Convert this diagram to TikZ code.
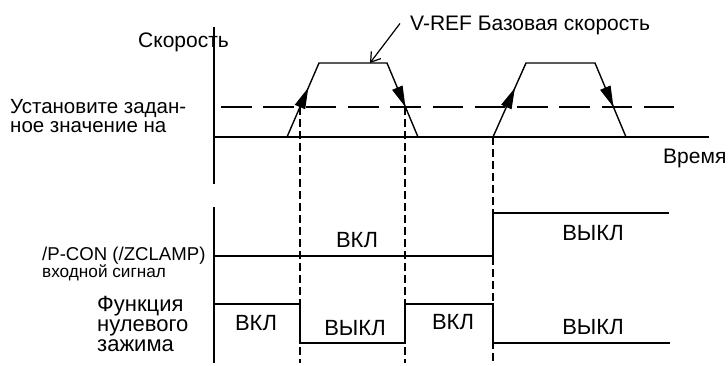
\documentclass[tikz,border=0pt]{standalone}
\usepackage{fontspec}
\setmainfont{Liberation Sans}
\usetikzlibrary{arrows.meta,calc}

\begin{document}
\begin{tikzpicture}[x=1pt,y=-1pt,
  axisline/.style={line width=1.4pt},
  sig/.style={line width=1.4pt, line join=miter},
  level/.style={line width=1.2pt, dash pattern=on 30.6pt off 11.7pt},
  guide/.style={line width=1.2pt, dash pattern=on 8pt off 4pt},
  edgetip/.style={-{Triangle[length=21pt,width=11pt]}, line width=1.4pt},
  lbl/.style={font=\fontsize{21}{21}\selectfont, inner sep=0pt},
  state/.style={font=\fontsize{22}{22}\selectfont, inner sep=0pt},
]
\useasboundingbox (0,0) rectangle (728,365);

% axes
\draw[axisline] (214,27) -- (214,184);
\draw[axisline] (214,207) -- (214,363);
\draw[axisline] (214,137) -- (709,137);
\node[lbl, anchor=base west] (speed) at (138,47) {Скорость};
\node[lbl, anchor=base west] (time) at (663,163) {Время};

% set value level
\draw[level] (221,107) -- (674,107);
\node[lbl, anchor=north west, align=left, font=\fontsize{20.5}{19}\selectfont]
  (setval) at (10,98.8) {Установите задан-\\ное значение на};

% speed profile, two ramps
\foreach \xa/\xb/\xc/\xd in {287/319/387/418, 493/526/595/626} {
  \coordinate (b1) at (\xa,137);
  \coordinate (t1) at (\xb,63);
  \coordinate (t2) at (\xc,63);
  \coordinate (b2) at (\xd,137);
  \draw[sig] (b1) -- (t1) -- (t2) -- (b2);
  \coordinate (up) at ($(b1)!0.405!(t1)$);
  \coordinate (dn) at ($(t2)!0.595!(b2)$);
  \draw[edgetip] (up) -- ($(up)!21pt!(t1)$);
  \draw[edgetip] ($(dn)!21pt!(t2)$) -- (dn);
}

% reference speed label
\node[lbl, anchor=base west] (vref) at (410,30) {V-REF Базовая скорость};
\coordinate (plateau) at (370,63);
\draw[line width=1.2pt, -{Straight Barb[length=9pt,width=12pt]}]
  ($(vref.west)+(-10,-1.5)$) -- (plateau);

% timing guides
\draw[guide] (300,107) -- (300,363);
\draw[guide] (405,107) -- (405,363);
\draw[guide] (493,137) -- (493,363);

% /P-CON input
\draw[sig] (214,256) -- (493,256) -- (493,213) -- (669,213);
\node[state] (pon) at (357,240) {ВКЛ};
\node[state] (poff) at (593,233) {ВЫКЛ};
\node[lbl, anchor=base west, font=\fontsize{18.6}{18.6}\selectfont]
  (pcon) at (42,260) {/P-CON (/ZCLAMP)};
\node[lbl, anchor=base west, font=\fontsize{17.2}{17.2}\selectfont]
  (pconin) at (42,277) {входной сигнал};

% zero clamp function
\draw[sig] (214,304) -- (300,304) -- (300,343) -- (405,343) -- (405,304)
  -- (493,304) -- (493,343) -- (670,343);
\node[state] (zon1) at (256,323) {ВКЛ};
\node[state] (zoff1) at (355,328) {ВЫКЛ};
\node[state] (zon2) at (453,322) {ВКЛ};
\node[state] (zoff2) at (593,327) {ВЫКЛ};
\node[lbl, anchor=north west, align=left, font=\fontsize{22}{20}\selectfont]
  (zclamp) at (97,296) {Функция\\нулевого\\зажима};
\end{tikzpicture}
\end{document}
